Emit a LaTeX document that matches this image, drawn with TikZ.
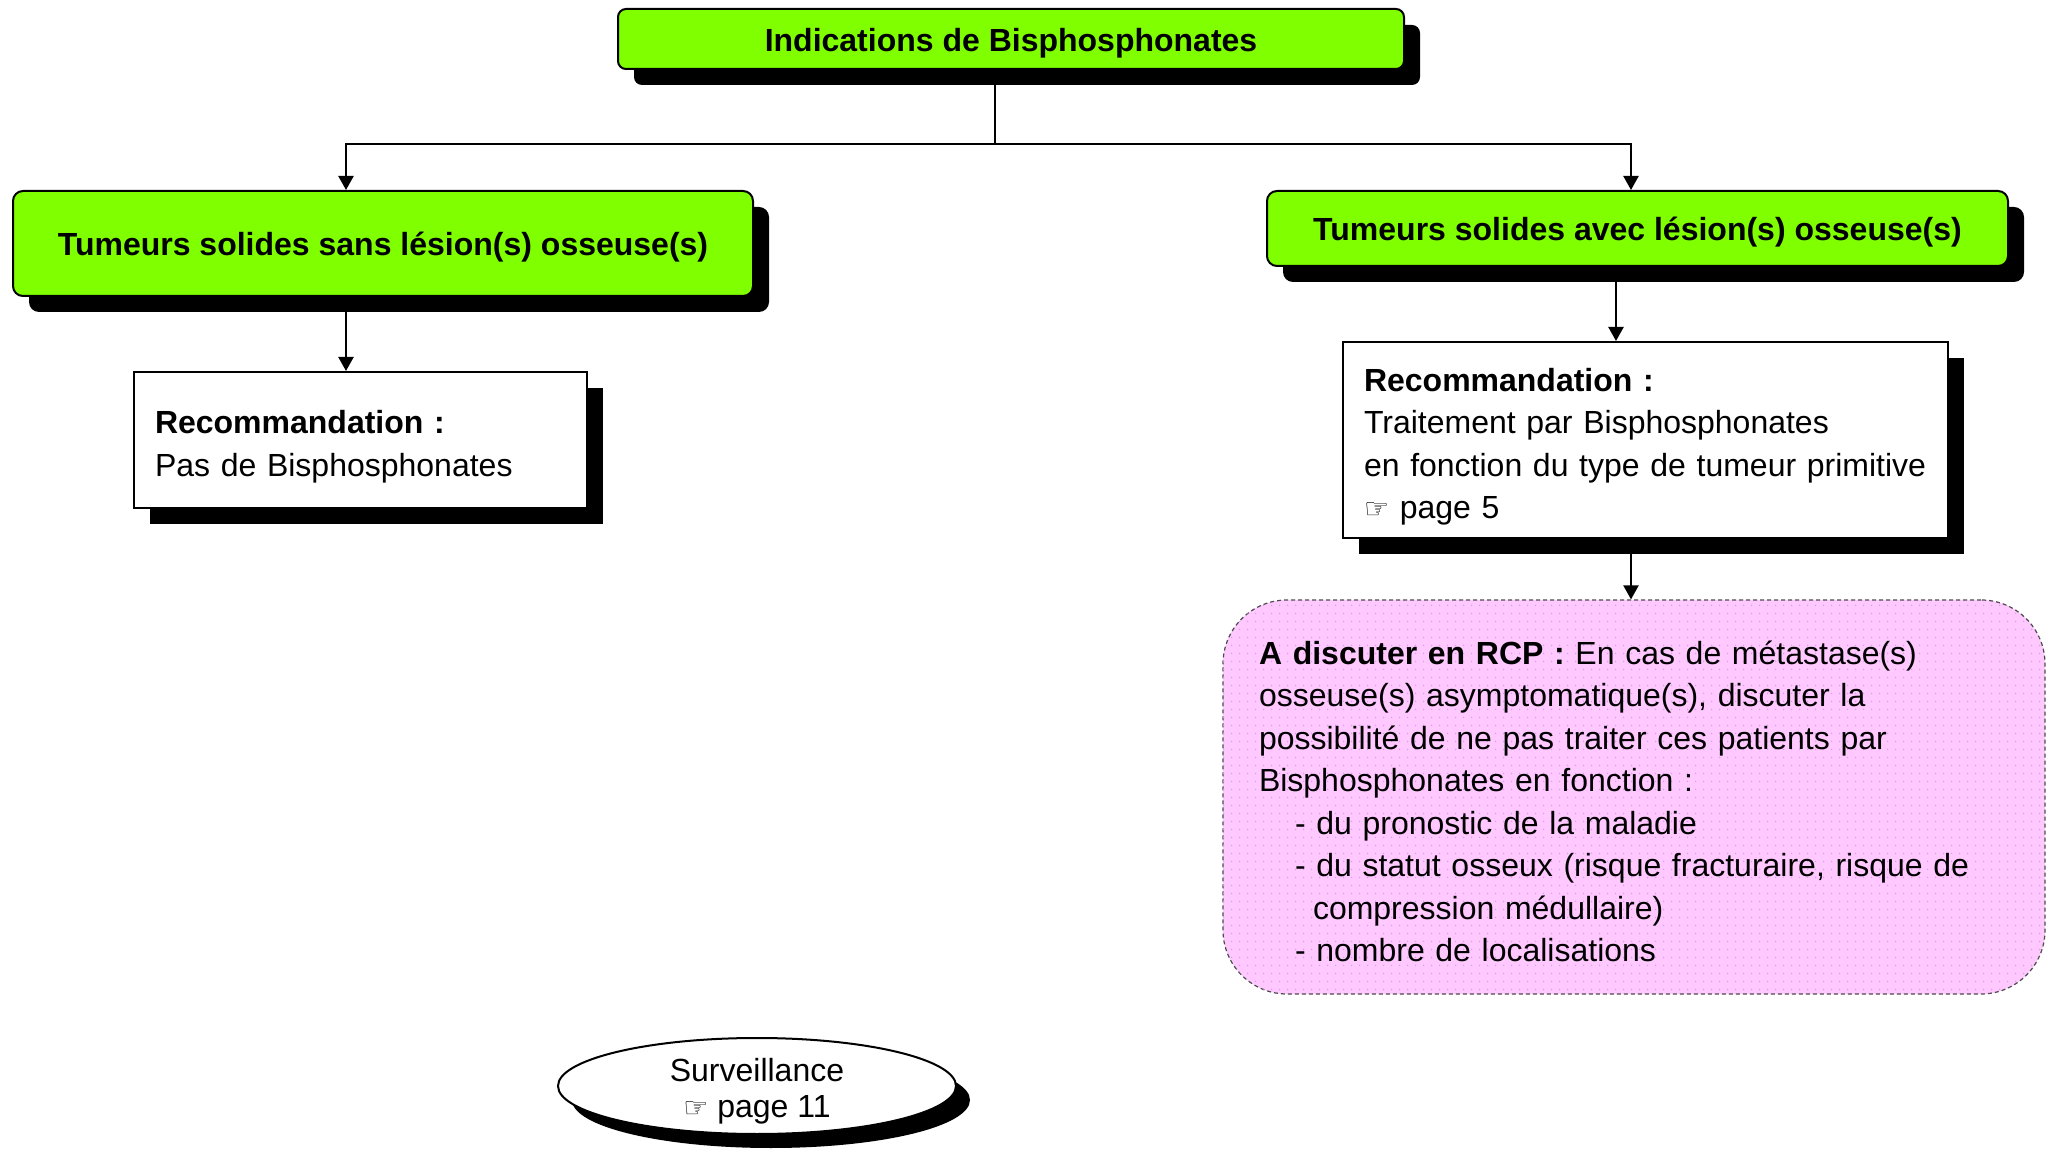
\documentclass[tikz,border=0pt]{standalone}
\usepackage{fontspec}
\setmainfont{Liberation Sans}
\newfontfamily\handfont{DejaVu Sans}
\usetikzlibrary{positioning,shadows,arrows.meta,shapes.geometric,patterns.meta}
\definecolor{boxgreen}{RGB}{128,255,0}
\definecolor{rcppink}{RGB}{255,200,255}
\definecolor{rcpdots}{RGB}{215,160,235}
\newcommand{\hand}{{\handfont\fontsize{14}{14}\selectfont ☞}}

\begin{document}
\begin{tikzpicture}[
every node/.style={font=\fontsize{16}{21.25}\selectfont, align=left},
blackshadow/.style={drop shadow={shadow xshift=8pt, shadow yshift=-8pt, fill=black, opacity=1}},
greenbox/.style={rectangle, draw, line width=1pt, fill=boxgreen, rounded corners=5pt, blackshadow,
        align=center, text height=14.5pt, text depth=2pt, font=\fontsize{16}{21.25}\selectfont\bfseries},
recbox/.style={rectangle, draw, line width=1pt, fill=white, blackshadow, inner xsep=10.5pt, text height=18.3pt},
rcpbox/.style={rectangle, draw=black!70, dash pattern=on 2pt off 1.5pt, line width=0.6pt,
        fill=rcppink, rounded corners=32pt, inner xsep=18pt, text height=16pt},
arrowline/.style={line width=1.1pt, -{Triangle[length=7pt, width=7.5pt]}}
]
  \useasboundingbox (0,0) rectangle (1026.5pt,574pt);
  \node[greenbox, minimum width=393pt, minimum height=30pt, rounded corners=4pt] (top) at (505.5pt,554.5pt)
      {Indications de Bisphosphonates};
  \node[greenbox, minimum width=370pt, minimum height=52.5pt] (sans) at (191.5pt,452.25pt)
      {Tumeurs solides sans lésion(s) osseuse(s)};
  \node[greenbox, minimum width=370.5pt, minimum height=37.5pt] (avec) at (818.75pt,459.75pt)
      {Tumeurs solides avec lésion(s) osseuse(s)};
  \node[recbox, text width=205.5pt, minimum height=68pt] (recsans) at (180.25pt,354pt)
      {\textbf{Recommandation :}\\Pas de Bisphosphonates};
  \node[recbox, text width=281.5pt, minimum height=98pt] (recavec) at (822.75pt,354pt)
      {\textbf{Recommandation :}\\Traitement par Bisphosphonates\\en fonction du type de tumeur primitive\\\hand{} page 5};
  \node[rcpbox, text width=375pt, minimum height=197pt,
      postaction={pattern={Dots[distance=4pt, radius=0.45pt]}, pattern color=rcpdots}] (rcp) at (817pt,175.5pt)
      {\textbf{A discuter en RCP :} En cas de métastase(s)\\
       osseuse(s) asymptomatique(s), discuter la\\
       possibilité de ne pas traiter ces patients par\\
       Bisphosphonates en fonction :\\
       \hspace*{18pt}- du pronostic de la maladie\\
       \hspace*{18pt}- du statut osseux (risque fracturaire, risque de\\
       \hspace*{27pt}compression médullaire)\\
       \hspace*{18pt}- nombre de localisations};
  \node[ellipse, draw, line width=1pt, fill=white, minimum width=199pt, minimum height=48pt,
      inner xsep=0pt, inner ysep=-4pt,
      align=center, text height=34.5pt, font=\fontsize{16}{17.7}\selectfont,
      drop shadow={shadow xshift=7pt, shadow yshift=-7pt, fill=black, opacity=1}] (surv) at (378.5pt,31pt)
      {Surveillance\\\hand{} page 11};

  \coordinate (split) at (497.5pt,502pt);
  \coordinate (colL) at (173pt,0pt);
  \coordinate (colM) at (808pt,0pt);
  \coordinate (colR) at (815.5pt,0pt);
  \draw[line width=1.1pt] (top.south -| split) -- (split);
  \draw[arrowline] (split) -| (sans.north -| colL);
  \draw[arrowline] (split) -| (avec.north -| colR);
  \draw[arrowline] (sans.south -| colL) -- (recsans.north -| colL);
  \draw[arrowline] (avec.south -| colM) -- (recavec.north -| colM);
  \draw[arrowline] (recavec.south -| colR) -- (rcp.north -| colR);
\end{tikzpicture}
\end{document}
